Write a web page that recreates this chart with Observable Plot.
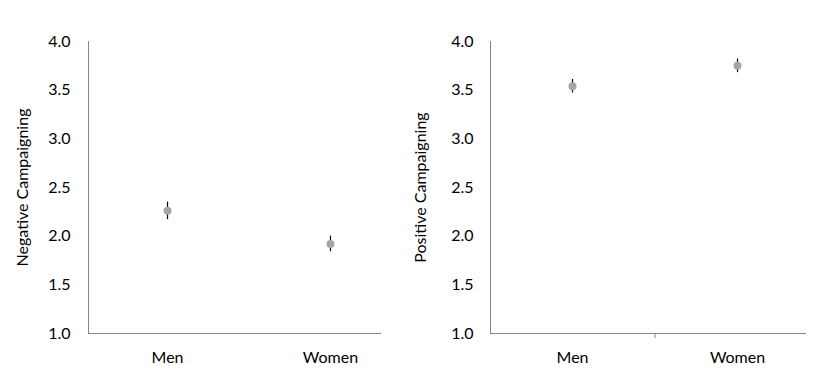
<!DOCTYPE html>
<html>
<head>
<meta charset="utf-8">
<script src="https://cdn.jsdelivr.net/npm/d3@7"></script>
<script src="https://cdn.jsdelivr.net/npm/@observablehq/plot@0.6"></script>
<style>
  html, body { margin: 0; padding: 0; background: #fff; }
  #wrap { display: flex; width: 820px; height: 387px; }
  svg { font-family: Lato, "Open Sans", sans-serif; }
</style>
</head>
<body>
<div id="wrap"></div>
<script>
const categories = ["Men", "Women"];
const negativeMean = [2.26, 1.92];
const negativeErr = [0.09, 0.08];
const positiveMean = [3.54, 3.75];
const positiveErr = [0.07, 0.07];
const yTicks = [1.0, 1.5, 2.0, 2.5, 3.0, 3.5, 4.0];
const betweenTicks = [0.5];

function panel(label, means, errs, opts) {
  const data = categories.map((c, i) => ({i, cat: c, mean: means[i], lo: means[i] - errs[i], hi: means[i] + errs[i]}));
  const marks = [
    Plot.frame({anchor: "left", stroke: "#868686"}),
    Plot.frame({anchor: "bottom", stroke: "#868686"}),
    Plot.axisY(yTicks, {tickSize: 0, tickPadding: opts.tickPad, tickFormat: d3.format(".1f"), fontSize: 16, fill: "#000",
      label, labelArrow: "none", labelAnchor: "center", labelOffset: opts.labelOffset}),
    Plot.axisX([0, 1], {tickSize: 0, tickPadding: 18, tickFormat: i => categories[i], fontSize: 16, fill: "#000", label: null}),
    Plot.ruleX(data, {x: "i", y1: "lo", y2: "hi", stroke: "#000", strokeWidth: 1.2}),
    Plot.dot(data, {x: "i", y: "mean", r: 4, fill: "#a5a5a5", stroke: "none"})
  ];
  if (opts.midTick) marks.push(Plot.axisX(betweenTicks, {tickSize: 5, stroke: "#868686", tickFormat: () => "", label: null}));
  return Plot.plot({
    width: 410,
    height: 387,
    marginLeft: opts.ml,
    marginRight: opts.mr,
    marginTop: 41,
    marginBottom: 54,
    style: {fontSize: "15px", fontFamily: "Lato, 'Open Sans', sans-serif", color: "#000"},
    x: {type: "linear", domain: opts.xdom, axis: null},
    y: {domain: [1, 4], axis: null},
    marks
  });
}

const wrap = document.getElementById("wrap");
wrap.appendChild(panel("Negative Campaigning", negativeMean, negativeErr, {ml: 88, mr: 30, xdom: [-0.485, 1.307], tickPad: 18, labelOffset: 72, midTick: false}));
wrap.appendChild(panel("Positive Campaigning", positiveMean, positiveErr, {ml: 80, mr: 15, xdom: [-0.497, 1.412], tickPad: 17, labelOffset: 76, midTick: true}));
</script>
</body>
</html>
